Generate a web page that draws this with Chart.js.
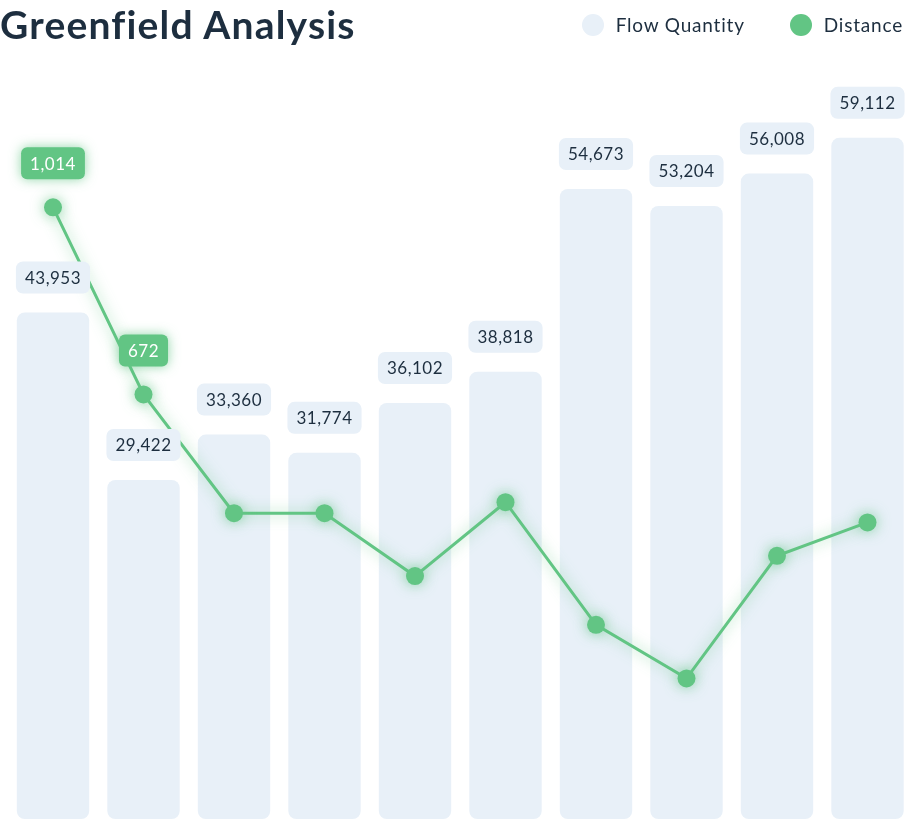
<!DOCTYPE html>
<html>
<head>
<meta charset="utf-8">
<title>Greenfield Analysis</title>
<script src="https://cdn.jsdelivr.net/npm/chart.js@4.4.1/dist/chart.umd.min.js"></script>
<style>
    body { margin: 0; background: #fff; font-family: Lato, "Noto Sans", sans-serif; }
    #wrap { position: relative; width: 905px; height: 820px; overflow: hidden; }
    #chart { position: absolute; left: 0; top: 0; }
    h1 {
        position: absolute; left: 0; top: 0; margin: 0;
        font-size: 39px; line-height: 48px; font-weight: 700; color: #1d2e3f;
        letter-spacing: 1.2px;
    }
    #legend {
        position: absolute; right: 2px; top: 13px; margin: 0; padding: 0;
        list-style: none; display: flex; align-items: center;
    }
    #legend li {
        display: flex; align-items: center; margin-left: 45px;
        font-size: 19px; letter-spacing: 0.8px; color: #1d2e3f;
    }
    #legend span.dot { width: 22px; height: 22px; border-radius: 50%; margin-right: 12px; }
</style>
</head>
<body>
<div id="wrap">
    <canvas id="chart" width="905" height="820"></canvas>
    <h1>Greenfield Analysis</h1>
    <ul id="legend"></ul>
</div>
<script>
var categories = ['1', '2', '3', '4', '5', '6', '7', '8', '9', '10'];
var flowQuantity = [43953, 29422, 33360, 31774, 36102, 38818, 54673, 53204, 56008, 59112];
var distance = [1014, 672, 455, 455, 340, 475, 251, 153, 377, 438];

var BAR_COLOR = '#e8f0f8';
var GREEN = '#62c584';
var TEXT = '#1d2e3f';
var LABEL_MIN = 600; // only the high distance points get a badge

function fmt(v) {
    return v.toLocaleString('en-US');
}

// glow behind the distance line and points
var lineGlow = {
    id: 'lineGlow',
    beforeDatasetDraw: function (chart, args) {
        if (args.index !== 1) return;
        var ctx = chart.ctx;
        ctx.save();
        ctx.shadowColor = 'rgba(98, 197, 132, 0.7)';
        ctx.shadowBlur = 14;
    },
    afterDatasetDraw: function (chart, args) {
        if (args.index !== 1) return;
        chart.ctx.restore();
    }
};

// value badges above bars and high points
var valueLabels = {
    id: 'valueLabels',
    afterDatasetsDraw: function (chart) {
        var ctx = chart.ctx;
        ctx.save();
        ctx.font = '17px Lato, "Noto Sans", sans-serif';
        ctx.letterSpacing = '0.5px';
        ctx.textAlign = 'center';
        ctx.textBaseline = 'middle';

        chart.getDatasetMeta(0).data.forEach(function (bar, i) {
            var text = fmt(flowQuantity[i]);
            var w = ctx.measureText(text).width + 18;
            var h = 32;
            var y = bar.y - 19 - h;
            ctx.fillStyle = BAR_COLOR;
            ctx.beginPath();
            ctx.roundRect(bar.x - w / 2, y, w, h, 7);
            ctx.fill();
            ctx.fillStyle = TEXT;
            ctx.fillText(text, bar.x, y + h / 2 + 1);
        });

        chart.getDatasetMeta(1).data.forEach(function (pt, i) {
            if (distance[i] < LABEL_MIN) return;
            var text = fmt(distance[i]);
            var w = ctx.measureText(text).width + 18;
            var h = 32;
            var y = pt.y - 28 - h;
            ctx.save();
            ctx.shadowColor = 'rgba(98, 197, 132, 0.7)';
            ctx.shadowBlur = 12;
            ctx.fillStyle = GREEN;
            ctx.beginPath();
            ctx.roundRect(pt.x - w / 2, y, w, h, 6);
            ctx.fill();
            ctx.restore();
            ctx.fillStyle = '#ffffff';
            ctx.fillText(text, pt.x, y + h / 2 + 1);
        });
        ctx.restore();
    }
};

var chart = new Chart(document.getElementById('chart'), {
    type: 'bar',
    data: {
        labels: categories,
        datasets: [
            {
                type: 'bar',
                label: 'Flow Quantity',
                data: flowQuantity,
                backgroundColor: BAR_COLOR,
                borderRadius: 8,
                borderSkipped: false,
                barPercentage: 1,
                categoryPercentage: 0.8,
                yAxisID: 'y',
                order: 1,
                clip: false
            },
            {
                type: 'line',
                label: 'Distance',
                data: distance,
                borderColor: GREEN,
                backgroundColor: GREEN,
                borderWidth: 3,
                pointRadius: 9,
                pointBorderWidth: 0,
                pointBackgroundColor: GREEN,
                tension: 0,
                yAxisID: 'y1',
                order: 0,
                clip: false
            }
        ]
    },
    options: {
        responsive: false,
        animation: false,
        layout: {
            autoPadding: false,
            padding: { left: 53, right: 37.5, top: 70, bottom: 1 }
        },
        plugins: {
            legend: { display: false },
            title: { display: false },
            tooltip: { enabled: false }
        },
        scales: {
            x: { offset: false, display: false },
            y: { min: 0, max: 65000, display: false },
            y1: { min: -104, max: 1265, display: false }
        }
    },
    plugins: [lineGlow, valueLabels]
});

// html legend built from the datasets
var legend = document.getElementById('legend');
chart.data.datasets.forEach(function (ds) {
    var li = document.createElement('li');
    var dot = document.createElement('span');
    dot.className = 'dot';
    dot.style.background = ds.backgroundColor;
    li.appendChild(dot);
    li.appendChild(document.createTextNode(ds.label));
    legend.appendChild(li);
});
</script>
</body>
</html>
